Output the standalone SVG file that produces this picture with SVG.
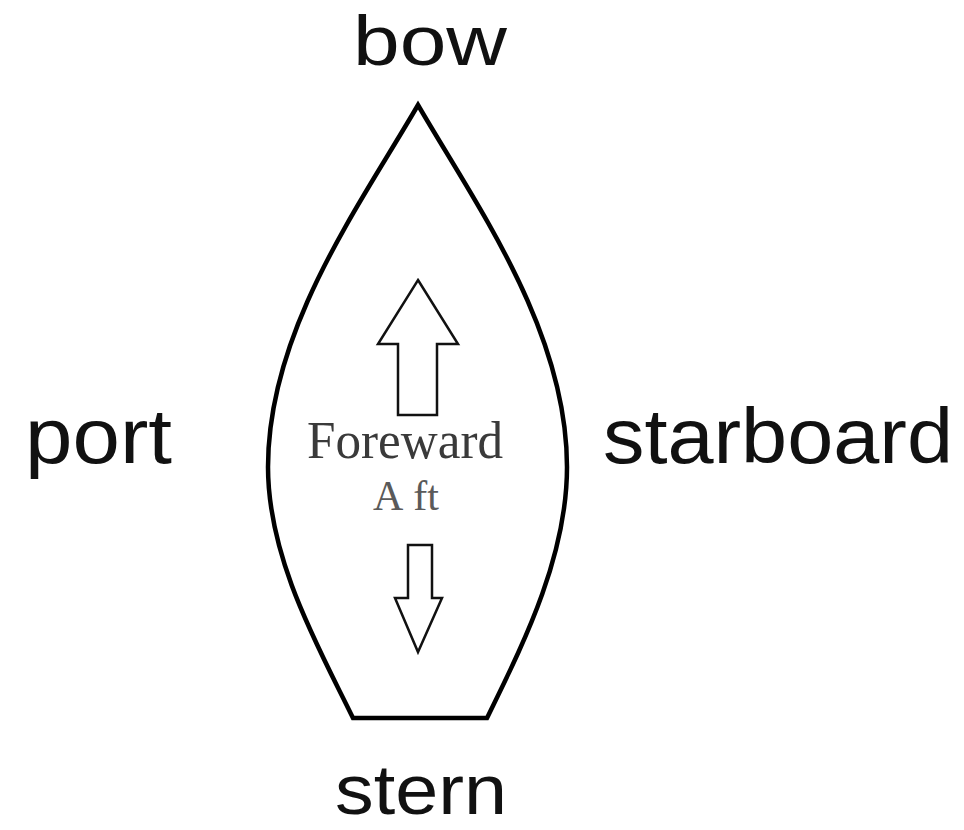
<svg xmlns="http://www.w3.org/2000/svg" width="964" height="830" viewBox="0 0 964 830">
<style>
.lbl{font-family:"Liberation Sans",Arial,sans-serif;font-size:77px;fill:#111;}
.edge{font-size:70px;}
.hull{fill:none;stroke:#000;stroke-width:4.5;stroke-linejoin:miter;}
.arr{fill:#fff;stroke:#111;stroke-width:2.5;stroke-linejoin:miter;}
.ser{font-family:"Liberation Serif","Times New Roman",serif;}
</style>
<rect width="964" height="830" fill="#fff"/>
<g id="hull">
<path class="hull" d="M418,105 C360,205 268,330 268,467 C268,560 320,650 353,718 L487,718 C520,650 567,560 567,467 C567,330 476,205 418,105 Z"/>
</g>
<g id="connectors">
<polygon id="arrow-forward" class="arr" points="418,280 458,344 437,344 437,415 398,415 398,344 378,344"/>
<polygon id="arrow-aft" class="arr" points="408,545 432,545 432,598 442,598 418,652 395,598 408,598"/>
</g>
<g id="bow"><text class="lbl edge" x="353" y="65" textLength="154" lengthAdjust="spacingAndGlyphs">bow</text></g>
<g id="port"><text class="lbl" x="25" y="463" textLength="147" lengthAdjust="spacingAndGlyphs">port</text></g>
<g id="starboard"><text class="lbl" x="603" y="463" textLength="350" lengthAdjust="spacingAndGlyphs">starboard</text></g>
<g id="stern"><text class="lbl edge" x="335" y="814" textLength="172" lengthAdjust="spacingAndGlyphs">stern</text></g>
<g id="foreward"><text class="ser" x="307" y="458" font-size="53" fill="#3a3a3a" textLength="196" lengthAdjust="spacingAndGlyphs">Foreward</text></g>
<g id="aft"><text class="ser" x="373" y="510" font-size="42" fill="#5a5a5a">A<tspan dx="10">ft</tspan></text></g>
</svg>
